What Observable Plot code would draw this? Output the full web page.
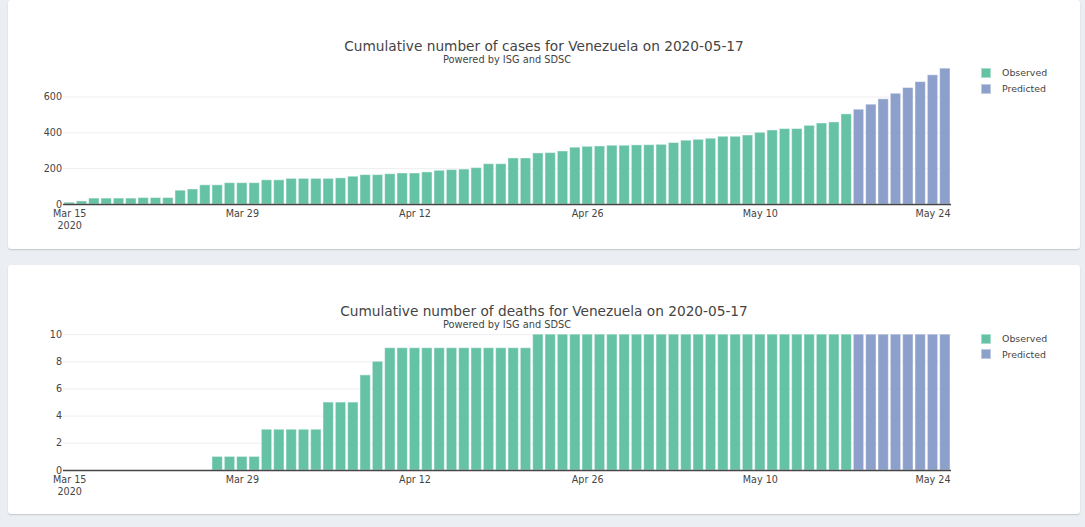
<!DOCTYPE html>
<html><head><meta charset="utf-8">
<script src="https://cdn.jsdelivr.net/npm/d3@7"></script>
<script src="https://cdn.jsdelivr.net/npm/@observablehq/plot@0.6"></script>
<style>
html,body{margin:0;padding:0;}
body{width:1085px;height:527px;background:#ebeef2;position:relative;overflow:hidden;font-family:"DejaVu Sans",sans-serif;color:#444;}
.card{position:absolute;left:8px;width:1072px;height:249px;background:#fff;border-radius:3px;box-shadow:0 1px 1.5px rgba(0,0,0,0.16);}
.card svg{position:absolute;left:0;top:0;}
.title{position:absolute;left:0;width:1072px;text-align:center;font-size:13.7px;line-height:13.7px;white-space:nowrap;color:#444;}
.subtitle{position:absolute;left:55px;width:888px;text-align:center;font-size:9.8px;line-height:9.8px;white-space:nowrap;color:#444;}
.lg-sw{position:absolute;left:973px;width:10px;height:10px;box-sizing:border-box;border:1px solid rgba(255,255,255,0.45);}
.lg-tx{position:absolute;left:994px;font-size:9.4px;line-height:9.4px;white-space:nowrap;color:#444;}
</style>
</head><body>
<div class="card" id="c1" style="top:0px"></div>
<div class="card" id="c2" style="top:265px"></div>
<script>
// ---- data ----
const firstDay = "2020-03-15";
const lastDay = "2020-05-25";
const observedCases = [10,17,33,33,33,33,36,36,36,77,84,107,107,119,119,119,135,135,143,143,143,143,146,155,164,164,169,173,173,179,188,192,195,203,225,225,257,257,285,287,296,317,322,324,328,328,330,331,333,343,356,361,367,378,378,385,400,413,421,421,439,452,458,503];
const predictedCases = [529,557,587,618,650,683,721,758];
const observedDeaths = [0,0,0,0,0,0,0,0,0,0,0,0,1,1,1,1,3,3,3,3,3,5,5,5,7,8,9,9,9,9,9,9,9,9,9,9,9,9,10,10,10,10,10,10,10,10,10,10,10,10,10,10,10,10,10,10,10,10,10,10,10,10,10,10];
const predictedDeaths = [10,10,10,10,10,10,10,10];
const seriesNames = ["Observed","Predicted"];
const seriesColors = ["#66c2a5","#8da0cb"];
const tickDates = ["2020-03-15","2020-03-29","2020-04-12","2020-04-26","2020-05-10","2020-05-24"];
const caseTicks = [0,200,400,600];
const deathTicks = [0,2,4,6,8,10];
const titles = ["Cumulative number of cases for Venezuela on 2020-05-17","Cumulative number of deaths for Venezuela on 2020-05-17"];
const subtitle = "Powered by ISG and SDSC";

// ---- build ----
const parse = d3.utcParse("%Y-%m-%d");
const fmtISO = d3.utcFormat("%Y-%m-%d");
const dates = d3.utcDay.range(parse(firstDay), d3.utcDay.offset(parse(lastDay), 1)).map(fmtISO);

function rows(obs, pred) {
  const all = obs.concat(pred);
  return dates.map((d, i) => ({date: d, value: all[i], type: i < obs.length ? seriesNames[0] : seriesNames[1]}));
}
const fmtTick = d3.utcFormat("%b %-d");
function tickFormat(d) {
  const t = fmtTick(parse(d));
  return d === tickDates[0] ? t + "\n2020" : t;
}

function chart(id, data, yTicks, yMax, mTop, mBottom, title, legendOffset) {
  const card = document.getElementById(id);
  const svg = Plot.plot({
    width: 1072, height: 249,
    marginLeft: 55, marginRight: 129, marginTop: mTop, marginBottom: mBottom,
    style: {background: "transparent", fontFamily: "DejaVu Sans", fontSize: "9.6px", color: "#444"},
    x: {type: "band", domain: dates, paddingInner: 0.16, paddingOuter: 0.08, round: false},
    y: {domain: [0, yMax]},
    color: {domain: seriesNames, range: seriesColors},
    marks: [
      Plot.gridY(yTicks.filter(t => t > 0), {stroke: "#eeeeee", strokeOpacity: 1}),
      Plot.barY(data, {x: "date", y: "value", fill: "type", stroke: "#ffffff", strokeOpacity: 0.45, strokeWidth: 1}),
      Plot.ruleY([0], {stroke: "#444", strokeWidth: 1.3}),
      Plot.axisY({ticks: yTicks, tickSize: 0, tickPadding: 1.5, label: null, fill: "#444"}),
      Plot.axisX({ticks: tickDates, tickFormat, tickSize: 0, tickPadding: 4, label: null, fill: "#444", lineHeight: 1.22})
    ]
  });
  card.appendChild(svg);
  const t = document.createElement("div"); t.className = "title"; t.style.top = "39.9px"; t.textContent = title; card.appendChild(t);
  const s = document.createElement("div"); s.className = "subtitle"; s.style.top = "54.8px"; s.textContent = subtitle; card.appendChild(s);
  seriesNames.forEach((n, i) => {
    const sw = document.createElement("div"); sw.className = "lg-sw";
    sw.style.top = (67.8 + legendOffset + i * 15.8) + "px"; sw.style.background = seriesColors[i]; card.appendChild(sw);
    const tx = document.createElement("div"); tx.className = "lg-tx";
    tx.style.top = (68.2 + legendOffset + i * 15.8) + "px"; tx.textContent = n; card.appendChild(tx);
  });
}

chart("c1", rows(observedCases, predictedCases), caseTicks, 798, 61, 45, titles[0], 0);
chart("c2", rows(observedDeaths, predictedDeaths), deathTicks, 10.526, 62, 44, titles[1], 0.7);
</script>
</body></html>
